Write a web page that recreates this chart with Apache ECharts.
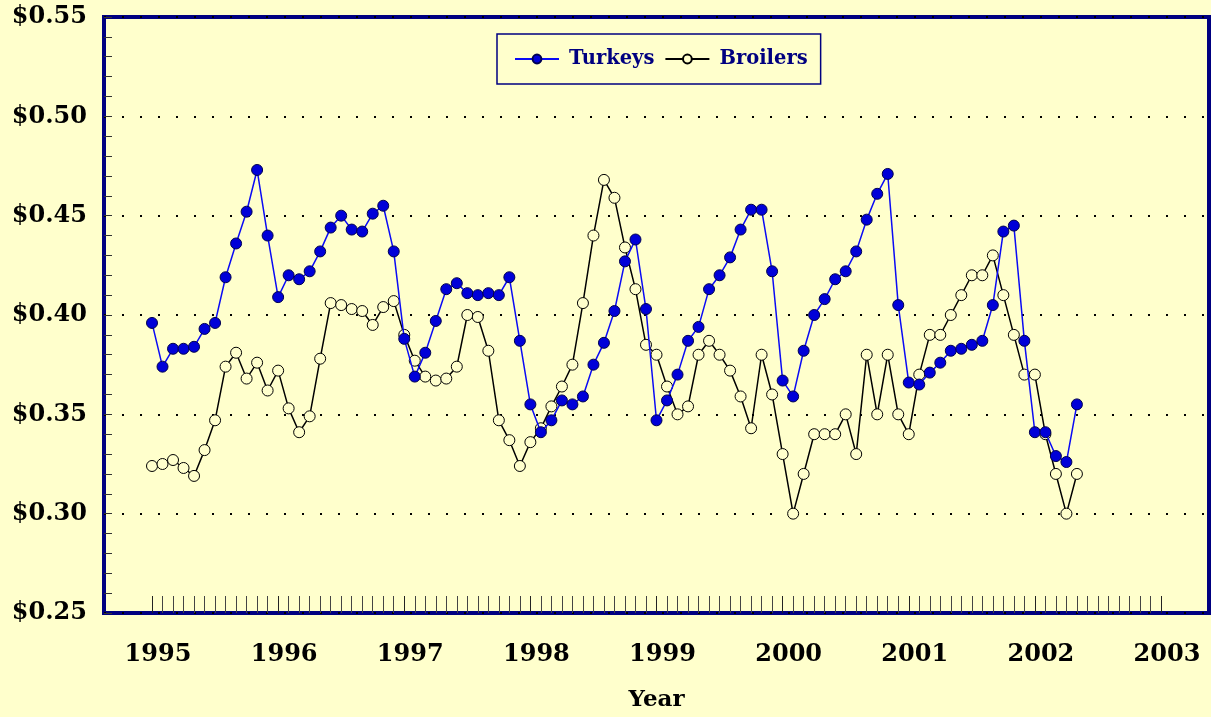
<!DOCTYPE html>
<html>
<head>
<meta charset="utf-8">
<script src="https://cdn.jsdelivr.net/npm/echarts@6/dist/echarts.min.js"></script>
<style>
html,body{margin:0;padding:0;background:#FFFFCC;}
#c{width:1211px;height:717px;}
</style>
</head>
<body>
<div id="c"></div>
<script>
// Monthly data, Jan 1995 (month 0) .. May 2002 (month 88)
const startYear = 1995;
const endYear = 2003;
const yTickLabels = ['$0.25', '$0.30', '$0.35', '$0.40', '$0.45', '$0.50', '$0.55'];
const turkeys = [
  0.396, 0.374, 0.383, 0.383, 0.384, 0.393, 0.396, 0.419, 0.436, 0.452, 0.473, 0.440,
  0.409, 0.420, 0.418, 0.422, 0.432, 0.444, 0.450, 0.443, 0.442, 0.451, 0.455, 0.432,
  0.388, 0.369, 0.381, 0.397, 0.413, 0.416, 0.411, 0.410, 0.411, 0.410, 0.419, 0.387,
  0.355, 0.341, 0.347, 0.357, 0.355, 0.359, 0.375, 0.386, 0.402, 0.427, 0.438, 0.403,
  0.347, 0.357, 0.370, 0.387, 0.394, 0.413, 0.420, 0.429, 0.443, 0.453, 0.453, 0.422,
  0.367, 0.359, 0.382, 0.400, 0.408, 0.418, 0.422, 0.432, 0.448, 0.461, 0.471, 0.405,
  0.366, 0.365, 0.371, 0.376, 0.382, 0.383, 0.385, 0.387, 0.405, 0.442, 0.445, 0.387,
  0.341, 0.341, 0.329, 0.326, 0.355
];
const broilers = [
  0.324, 0.325, 0.327, 0.323, 0.319, 0.332, 0.347, 0.374, 0.381, 0.368, 0.376, 0.362,
  0.372, 0.353, 0.341, 0.349, 0.378, 0.406, 0.405, 0.403, 0.402, 0.395, 0.404, 0.407,
  0.390, 0.377, 0.369, 0.367, 0.368, 0.374, 0.400, 0.399, 0.382, 0.347, 0.337, 0.324,
  0.336, 0.343, 0.354, 0.364, 0.375, 0.406, 0.440, 0.468, 0.459, 0.434, 0.413, 0.385,
  0.380, 0.364, 0.350, 0.354, 0.380, 0.387, 0.380, 0.372, 0.359, 0.343, 0.380, 0.360,
  0.330, 0.300, 0.320, 0.340, 0.340, 0.340, 0.350, 0.330, 0.380, 0.350, 0.380, 0.350,
  0.340, 0.370, 0.390, 0.390, 0.400, 0.410, 0.420, 0.420, 0.430, 0.410, 0.390, 0.370,
  0.370, 0.340, 0.320, 0.300, 0.320
];

const FONT = '"DejaVu Serif", "Liberation Serif", serif';
const months = (endYear - startYear) * 12;
const tData = turkeys.map((v, i) => [i, v]);
const bData = broilers.map((v, i) => [i, v]);

const chart = echarts.init(document.getElementById('c'), null, {renderer: 'canvas'});
chart.setOption({
  backgroundColor: '#FFFFCC',
  animation: false,
  legend: {
    left: 497, top: 34,
    padding: [15, 13, 15, 17],
    itemGap: 10,
    itemWidth: 44,
    itemHeight: 11,
    borderColor: '#000080',
    borderWidth: 1.5,
    backgroundColor: '#FFFFCC',
    textStyle: {fontFamily: FONT, fontWeight: 'bold', fontSize: 19.5, color: '#000080', padding: [0, 0, 0, 5]},
    data: ['Turkeys', 'Broilers']
  },
  grid: [
    {left: 104, top: 17, right: 2, bottom: 104, show: true, borderColor: '#000080', borderWidth: 4, backgroundColor: 'transparent', containLabel: false},
    {left: 152, top: 17, right: 50, bottom: 104, containLabel: false}
  ],
  xAxis: [
    {gridIndex: 0, type: 'value', min: 0, max: 1, show: false},
    {
      gridIndex: 1, type: 'value', min: 0, max: months, interval: 12,
      name: 'Year', nameLocation: 'middle', nameGap: 76,
      nameTextStyle: {fontFamily: FONT, fontWeight: 'bold', fontSize: 23, color: '#000'},
      axisLine: {show: false},
      axisTick: {show: true, inside: true, length: 17, lineStyle: {color: '#222', width: 1}},
      minorTick: {show: true, splitNumber: 12, length: 17, lineStyle: {color: '#444', width: 1}},
      splitLine: {show: false},
      axisLabel: {
        show: true, margin: 30, showMinLabel: true, showMaxLabel: true,
        fontFamily: FONT, fontWeight: 'bold', fontSize: 24, color: '#000',
        padding: [0, 0, 0, 12],
        formatter: v => String(startYear + Math.round(v / 12))
      }
    }
  ],
  yAxis: [
    {
      gridIndex: 0, type: 'value', min: 0.25, max: 0.55, interval: 0.05,
      axisLine: {show: false},
      axisTick: {show: true, inside: true, length: 8, lineStyle: {color: '#333'}},
      minorTick: {show: true, splitNumber: 5, length: 8, lineStyle: {color: '#333'}},
      splitLine: {show: true, lineStyle: {color: '#000', width: 2, type: [2, 16]}},
      axisLabel: {
        margin: 17, fontFamily: FONT, fontWeight: 'bold', fontSize: 24, color: '#000',
        formatter: v => yTickLabels[Math.round((v - 0.25) / 0.05)]
      }
    },
    {gridIndex: 1, type: 'value', min: 0.25, max: 0.55, show: false}
  ],
  series: [
    {
      name: 'Turkeys', type: 'line', xAxisIndex: 1, yAxisIndex: 1,
      data: tData, showAllSymbol: true, symbol: 'circle', symbolSize: 11,
      lineStyle: {color: '#0A0AF5', width: 1.5},
      itemStyle: {color: '#0000D8', borderColor: '#000050', borderWidth: 1},
      z: 3
    },
    {
      name: 'Broilers', type: 'line', xAxisIndex: 1, yAxisIndex: 1,
      data: bData, showAllSymbol: true, symbol: 'circle', symbolSize: 11,
      lineStyle: {color: '#000', width: 1.5},
      itemStyle: {color: '#FFFFCC', borderColor: '#000', borderWidth: 1},
      z: 2
    }
  ]
});
</script>
</body>
</html>
